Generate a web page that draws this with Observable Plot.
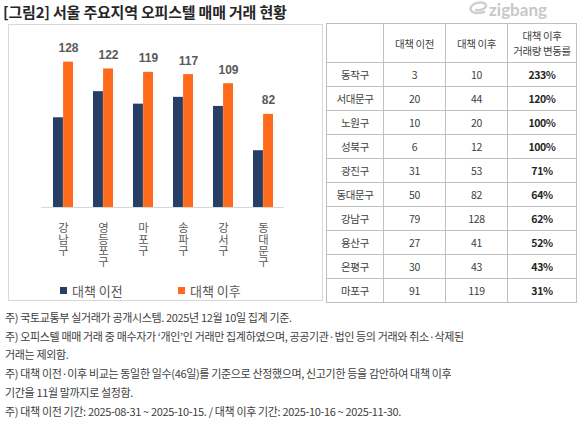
<!DOCTYPE html>
<html>
<head>
<meta charset="utf-8">
<script src="https://cdn.jsdelivr.net/npm/d3@7"></script>
<script src="https://cdn.jsdelivr.net/npm/@observablehq/plot@0.6"></script>
<style>
  html, body { margin: 0; padding: 0; background: #fff; }
  body { width: 580px; height: 422px; position: relative; overflow: hidden; font-family: "Noto Sans CJK KR", "Noto Sans", sans-serif; }
  #title { position: absolute; left: 3px; top: 1px; font-size: 15px; font-weight: bold; color: #262626; white-space: nowrap; line-height: 22px; letter-spacing: -0.2px; }
  #logo { position: absolute; left: 468px; top: 0px; overflow: visible; }
  #chartbox { position: absolute; left: 8px; top: 24px; width: 315px; height: 277px; border: 1px solid #d9d9d9; box-sizing: border-box; }
  #chart { position: absolute; left: 8px; top: 24px; }
  .leg { position: absolute; top: 282px; font-size: 13px; color: #595959; white-space: nowrap; line-height: 17px; }
  .sw { position: absolute; width: 7px; height: 7px; top: 287px; }
  #tbl { position: absolute; left: 326px; top: 23px; border-collapse: collapse; font-size: 10.5px; color: #404040; table-layout: fixed; }
  #tbl td { border: 1px solid #bfbfbf; text-align: center; padding: 0; height: 23px; line-height: 12px; letter-spacing: -0.4px; }
  #tbl tr.hd td { height: 38px; }
  #tbl td.pct { font-weight: bold; color: #262626; }
  #notes { position: absolute; left: 5px; top: 308px; font-size: 11px; color: #404040; line-height: 18.7px; letter-spacing: -0.35px; }
  #notes div { white-space: nowrap; }
</style>
</head>
<body>
<div id="title">[그림2] 서울 주요지역 오피스텔 매매 거래 현황</div>
<svg id="logo" width="110" height="24" viewBox="0 0 110 24">
  <path d="M3 7 C 6 2, 16 1, 18 5 C 19 8, 13 11, 8 10 M3 7 C 1 11, 6 15, 16 12" fill="none" stroke="#cfcfcf" stroke-width="2.4" stroke-linecap="round"/>
  <text x="21" y="16" font-family="Lato, Roboto, sans-serif" font-weight="bold" font-size="17" fill="#c8c8c8">zigbang</text>
</svg>
<div id="chartbox"></div>
<div id="chart"></div>
<div class="sw" style="left:60px;background:#253f66"></div>
<div class="leg" style="left:72px">대책 이전</div>
<div class="sw" style="left:178px;background:#ff6b1a"></div>
<div class="leg" style="left:190px">대책 이후</div>
<table id="tbl"></table>
<div id="notes">
  <div>주) 국토교통부 실거래가 공개시스템. 2025년 12월 10일 집계 기준.</div>
  <div>주) 오피스텔 매매 거래 중 매수자가 ‘개인’인 거래만 집계하였으며, 공공기관·법인 등의 거래와 취소·삭제된</div>
  <div>거래는 제외함.</div>
  <div>주) 대책 이전·이후 비교는 동일한 일수(46일)를 기준으로 산정했으며, 신고기한 등을 감안하여 대책 이후</div>
  <div>기간을 11월 말까지로 설정함.</div>
  <div>주) 대책 이전 기간: 2025-08-31 ~ 2025-10-15. / 대책 이후 기간: 2025-10-16 ~ 2025-11-30.</div>
</div>
<script>
// Chart data
const districts = ["강남구", "영등포구", "마포구", "송파구", "강서구", "동대문구"];
const before = [79, 102, 91, 97, 89, 50];
const after = [128, 122, 119, 117, 109, 82];

// Table data
const tableHeader = ["", "대책 이전", "대책 이후", "대책 이후\n거래량 변동률"];
const tableDistricts = ["동작구", "서대문구", "노원구", "성북구", "광진구", "동대문구", "강남구", "용산구", "은평구", "마포구"];
const tableBefore = [3, 20, 10, 6, 31, 50, 79, 27, 30, 91];
const tableAfter = [10, 44, 20, 12, 53, 82, 128, 41, 43, 119];
const tableChange = ["233%", "120%", "100%", "100%", "71%", "64%", "62%", "52%", "43%", "31%"];

const navy = "#253f66";
const orange = "#ff6b1a";

const beforeData = districts.map((d, i) => ({district: d, value: before[i]}));
const afterData = districts.map((d, i) => ({district: d, value: after[i]}));

const chart = Plot.plot({
  width: 316,
  height: 278,
  marginLeft: 33,
  marginRight: 40,
  marginTop: 24,
  marginBottom: 95,
  x: {domain: districts, paddingInner: 0.5, paddingOuter: 0.25},
  y: {domain: [0, 140], axis: null},
  style: {fontFamily: "'Noto Sans CJK KR', sans-serif", background: "transparent"},
  marks: [
    Plot.barY(beforeData, {x: "district", y: "value", fill: navy, insetRight: 10.1}),
    Plot.barY(afterData, {x: "district", y: "value", fill: orange, insetLeft: 10.1}),
    Plot.ruleY([0], {stroke: "#d9d9d9", strokeWidth: 1}),
    Plot.text(afterData, {x: "district", y: "value", text: d => String(d.value), dx: 5, dy: -10, lineAnchor: "bottom",
      fontWeight: "bold", fontSize: 12, fill: "#595959", fontFamily: "'Liberation Sans', Arial, sans-serif"}),
    Plot.axisX({tickSize: 0, tickPadding: 7, fontSize: 11.3, fill: "#595959", label: null})
  ]
});
// Stack the district labels vertically (upright characters, one under another)
d3.select(chart).selectAll("text")
  .filter(function() { return districts.includes(this.textContent); })
  .attr("dy", null)
  .attr("text-anchor", "start")
  .attr("writing-mode", "tb")
  .attr("glyph-orientation-vertical", "0")
  .style("writing-mode", "vertical-rl")
  .style("text-orientation", "upright")
  .style("letter-spacing", "0px");
document.getElementById("chart").appendChild(chart);

// Build table
const tbl = document.getElementById("tbl");
const colW = [57, 62, 62, 69];
const cg = document.createElement("colgroup");
colW.forEach(w => { const c = document.createElement("col"); c.style.width = w + "px"; cg.appendChild(c); });
tbl.appendChild(cg);
tbl.style.width = d3.sum(colW) + "px";
const hr = document.createElement("tr");
hr.className = "hd";
tableHeader.forEach(h => {
  const td = document.createElement("td");
  td.innerHTML = h.split("\n").join("<br>");
  td.style.lineHeight = "15px";
  hr.appendChild(td);
});
tbl.appendChild(hr);
tableDistricts.forEach((d, i) => {
  const tr = document.createElement("tr");
  [d, tableBefore[i], tableAfter[i], tableChange[i]].forEach((v, j) => {
    const td = document.createElement("td");
    td.textContent = v;
    if (j === 3) td.className = "pct";
    tr.appendChild(td);
  });
  tbl.appendChild(tr);
});
</script>
</body>
</html>
